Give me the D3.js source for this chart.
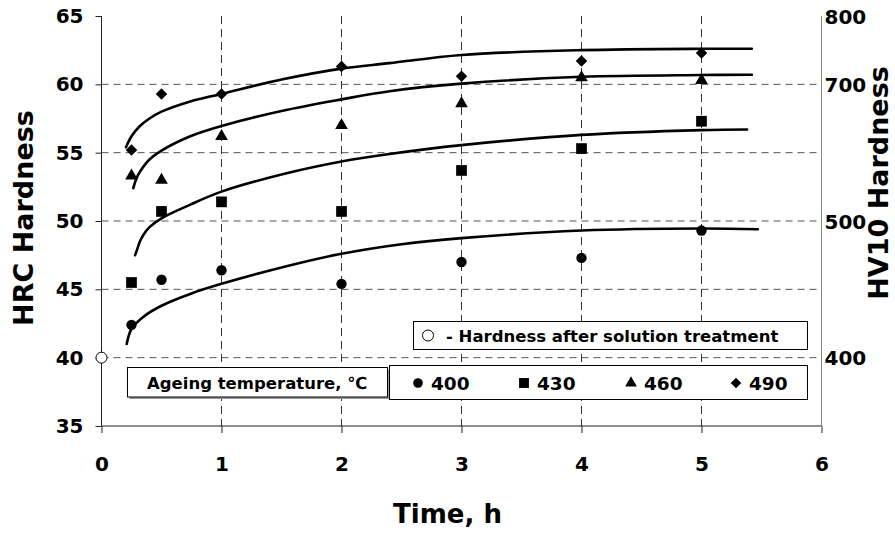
<!DOCTYPE html>
<html>
<head>
<meta charset="utf-8">
<script src="https://cdn.jsdelivr.net/npm/d3@7"></script>
<style>
  html, body { margin: 0; padding: 0; background: #fff; }
  svg { display: block; }
  text { font-family: "DejaVu Sans", "Liberation Sans", Arial, sans-serif; font-weight: bold; fill: #000; }
</style>
</head>
<body>
<svg id="chart" width="895" height="535"></svg>
<script>
// ---- data ----
const times = [0.25, 0.5, 1, 2, 3, 4, 5];
const hrc400 = [42.4, 45.7, 46.4, 45.4, 47.0, 47.3, 49.3];
const hrc430 = [45.5, 50.7, 51.4, 50.7, 53.7, 55.3, 57.3];
const hrc460 = [53.3, 53.0, 56.2, 57.0, 58.6, 60.5, 60.3];
const hrc490 = [55.2, 59.3, 59.3, 61.3, 60.6, 61.7, 62.3];
const temperatures = ["400", "430", "460", "490"];
const solutionPoint = [0, 40];

// trend lines
const trend400T = [0.21, 0.25, 0.35, 0.5, 0.75, 1, 1.5, 2, 2.5, 3, 4, 5, 5.47];
const trend400V = [41.0, 42.1, 43.0, 43.8, 44.7, 45.4, 46.6, 47.6, 48.3, 48.75, 49.3, 49.45, 49.4];
const trend430T = [0.28, 0.3, 0.32, 0.35, 0.4, 0.5, 0.74, 1, 1.5, 2, 2.4, 3, 4, 5, 5.38];
const trend430V = [47.5, 48.0, 48.5, 49.0, 49.55, 50.2, 51.2, 52.15, 53.4, 54.35, 54.9, 55.55, 56.3, 56.65, 56.7];
const trend460T = [0.265, 0.29, 0.32, 0.4, 0.5, 0.74, 1, 1.5, 2, 2.4, 3, 4, 5, 5.42];
const trend460V = [52.4, 53.1, 53.6, 54.5, 55.15, 56.2, 56.95, 58.05, 58.9, 59.5, 60.05, 60.55, 60.68, 60.7];
const trend490T = [0.204, 0.25, 0.32, 0.4, 0.5, 0.74, 1, 1.5, 2, 2.4, 3, 4, 5, 5.42];
const trend490V = [55.4, 56.2, 56.95, 57.5, 58.0, 58.75, 59.3, 60.35, 61.15, 61.55, 62.15, 62.5, 62.6, 62.6];

const xTicks = [0, 1, 2, 3, 4, 5, 6];
const yTicks = [35, 40, 45, 50, 55, 60, 65];
const hvTickHRC = [65, 60, 50, 40];
const hvLabels = ["800", "700", "500", "400"];

const xTitle = "Time, h";
const yTitle = "HRC Hardness";
const y2Title = "HV10 Hardness";
const legendSolution = "- Hardness after solution treatment";
const legendAgeing = "Ageing temperature, \u2103";

// ---- layout ----
const svg = d3.select("#chart");
const x = d3.scaleLinear().domain([0, 6]).range([101.5, 821.5]);
const y = d3.scaleLinear().domain([35, 65]).range([426, 16]);

// grid
const grid = svg.append("g");
grid.selectAll("line.h").data(yTicks.filter(v => v > 35 && v < 65)).join("line")
  .attr("x1", x(0)).attr("x2", x(6))
  .attr("y1", d => y(d)).attr("y2", d => y(d))
  .attr("stroke", "#555").attr("stroke-width", 1).attr("stroke-dasharray", "7,5");
grid.selectAll("line.v").data(xTicks.filter(v => v > 0 && v < 6)).join("line")
  .attr("x1", d => x(d)).attr("x2", d => x(d))
  .attr("y1", y(65)).attr("y2", y(35))
  .attr("stroke", "#333").attr("stroke-width", 1).attr("stroke-dasharray", "8,5");

// axes
const yAxis = svg.append("g").attr("transform", `translate(${x(0)},0)`)
  .call(d3.axisLeft(y).tickValues(yTicks).tickSize(6).tickPadding(12).tickFormat(d3.format("d")));
const xAxis = svg.append("g").attr("transform", `translate(0,${y(35)})`)
  .call(d3.axisBottom(x).tickValues(xTicks).tickSize(7).tickPadding(24).tickFormat(d3.format("d")));
const y2Axis = svg.append("g").attr("transform", `translate(${x(6)},0)`)
  .call(d3.axisRight(y).tickValues(hvTickHRC).tickSize(0).tickPadding(4)
    .tickFormat((d, i) => hvLabels[i]));
[yAxis, xAxis, y2Axis].forEach(a => {
  a.selectAll("path.domain").attr("stroke", "#222").attr("stroke-width", 1);
  a.selectAll(".tick line").attr("stroke", "#222");
  a.selectAll("text").attr("font-size", 20).attr("fill", "#000")
    .attr("font-family", "DejaVu Sans").attr("font-weight", "bold");
});
y2Axis.select("path.domain").attr("stroke", "#888").attr("d", `M0,${y(65)}V${y(35)}`);
y2Axis.selectAll("text").attr("x", 3).attr("dy", "0.36em");
xAxis.select("path.domain").attr("d", `M${x(0)},0H${x(6)}`);
yAxis.select("path.domain").attr("d", `M0,${y(65)}V${y(35)}`);

// titles
svg.append("text").attr("transform", `translate(33,218) rotate(-90)`)
  .attr("text-anchor", "middle").attr("font-size", 27).text(yTitle);
svg.append("text").attr("transform", `translate(888,183) rotate(-90)`)
  .attr("text-anchor", "middle").attr("font-size", 27).text(y2Title);
svg.append("text").attr("x", 447.5).attr("y", 523)
  .attr("text-anchor", "middle").attr("font-size", 26).text(xTitle);

// trend lines
const line = d3.line().x(d => x(d[0])).y(d => y(d[1])).curve(d3.curveCatmullRom.alpha(0.5));
const trends = [
  d3.zip(trend400T, trend400V), d3.zip(trend430T, trend430V),
  d3.zip(trend460T, trend460V), d3.zip(trend490T, trend490V)
];
svg.append("g").selectAll("path").data(trends).join("path")
  .attr("d", line).attr("fill", "none").attr("stroke", "#000").attr("stroke-width", 2.6)
  .attr("stroke-linecap", "round");

// markers
const sym = [
  { type: d3.symbolCircle, size: 85, rot: 0 },
  { type: d3.symbolSquare, size: 115, rot: 0 },
  { type: d3.symbolTriangle, size: 70, rot: 0 },
  { type: d3.symbolSquare, size: 66, rot: 45 }
];
const series = [hrc400, hrc430, hrc460, hrc490];
series.forEach((vals, si) => {
  const s = sym[si];
  svg.append("g").selectAll("path").data(d3.zip(times, vals)).join("path")
    .attr("d", d3.symbol().type(s.type).size(s.size))
    .attr("transform", d => `translate(${x(d[0])},${y(d[1])}) rotate(${s.rot})`)
    .attr("fill", "#000");
});

// solution treatment point
svg.append("circle").attr("cx", x(solutionPoint[0])).attr("cy", y(solutionPoint[1]))
  .attr("r", 5.5).attr("fill", "#fff").attr("stroke", "#000").attr("stroke-width", 1);

// legend: solution
const lg1 = svg.append("g");
lg1.append("rect").attr("x", 413.5).attr("y", 321.5).attr("width", 394).attr("height", 28)
  .attr("fill", "#fff").attr("stroke", "#000").attr("stroke-width", 1);
lg1.append("circle").attr("cx", 428).attr("cy", 335.5).attr("r", 5.5)
  .attr("fill", "#fff").attr("stroke", "#000");
lg1.append("text").attr("x", 446).attr("y", 341.5).attr("font-size", 16.5).text(legendSolution);

// legend: ageing
const lg2 = svg.append("g");
lg2.append("rect").attr("x", 129.5).attr("y", 369.5).attr("width", 260).attr("height", 29.5)
  .attr("fill", "#999");
lg2.append("rect").attr("x", 127.5).attr("y", 367.5).attr("width", 260).attr("height", 29.5)
  .attr("fill", "#fff").attr("stroke", "#000").attr("stroke-width", 1);
lg2.append("text").attr("x", 147).attr("y", 388.5).attr("font-size", 16.5).text(legendAgeing);

const lg3 = svg.append("g");
lg3.append("rect").attr("x", 389.5).attr("y", 365.5).attr("width", 418).attr("height", 34)
  .attr("fill", "#fff").attr("stroke", "#000").attr("stroke-width", 1);
const legX = [418, 524, 631, 736];
temperatures.forEach((t, i) => {
  const s = sym[i];
  lg3.append("path").attr("d", d3.symbol().type(s.type).size(s.size * 0.85))
    .attr("transform", `translate(${legX[i]},383) rotate(${s.rot})`).attr("fill", "#000");
  lg3.append("text").attr("x", legX[i] + 13).attr("y", 390).attr("font-size", 18.5).text(t);
});
</script>
</body>
</html>
